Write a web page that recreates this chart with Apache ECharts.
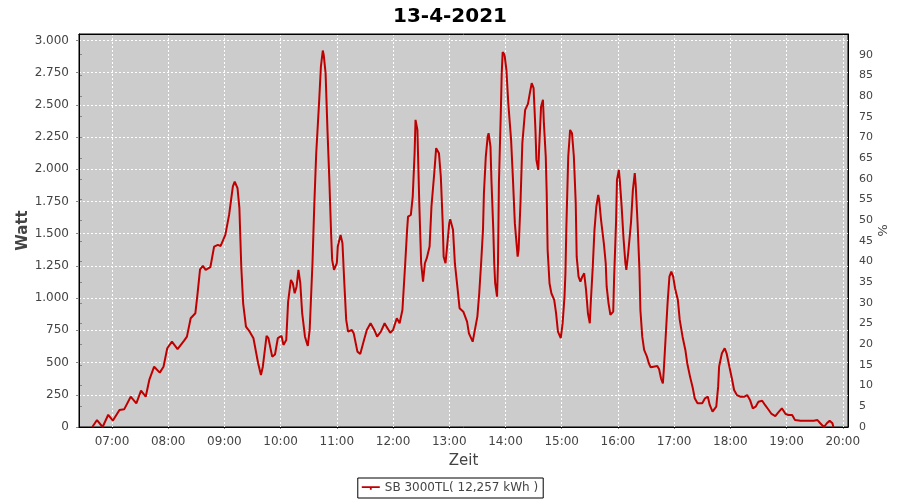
<!DOCTYPE html>
<html>
<head>
<meta charset="utf-8">
<script src="https://cdn.jsdelivr.net/npm/echarts@6/dist/echarts.min.js"></script>
<style>html,body{margin:0;padding:0;background:#fff}#c{width:900px;height:500px}</style>
</head>
<body>
<div id="c"></div>
<script>
const title = '13-4-2021';
const seriesName = 'SB 3000TL( 12,257 kWh )';
const times = ['06:39','06:44','06:50','06:56','07:01','07:08','07:13','07:20','07:26','07:31','07:36','07:40','07:45','07:51','07:55','07:59','08:04','08:10','08:17','08:20','08:24','08:29','08:31','08:34','08:37','08:40','08:45','08:49','08:53','08:56','09:01','09:05','09:09','09:11','09:14','09:16','09:18','09:20','09:23','09:27','09:31','09:36','09:39','09:41','09:45','09:47','09:51','09:54','09:57','10:01','10:03','10:06','10:08','10:11','10:13','10:15','10:17','10:19','10:21','10:23','10:26','10:29','10:31','10:34','10:36','10:38','10:41','10:43','10:45','10:46','10:48','10:50','10:52','10:54','10:55','10:57','11:00','11:01','11:04','11:06','11:08','11:10','11:12','11:16','11:18','11:22','11:25','11:29','11:32','11:36','11:40','11:43','11:47','11:51','11:53','11:57','12:00','12:04','12:07','12:10','12:13','12:15','12:16','12:19','12:21','12:23','12:24','12:26','12:28','12:30','12:32','12:34','12:36','12:39','12:41','12:44','12:46','12:49','12:51','12:53','12:54','12:56','12:58','13:00','13:01','13:04','13:06','13:09','13:11','13:15','13:19','13:21','13:25','13:27','13:30','13:32','13:34','13:36','13:37','13:39','13:41','13:42','13:44','13:45','13:47','13:48','13:49','13:51','13:52','13:53','13:55','13:56','13:57','13:59','14:01','14:03','14:06','14:08','14:10','14:13','14:14','14:16','14:18','14:21','14:24','14:26','14:28','14:30','14:32','14:33','14:35','14:36','14:38','14:40','14:41','14:43','14:44','14:45','14:47','14:49','14:52','14:54','14:56','14:59','15:01','15:03','15:04','15:05','15:07','15:09','15:11','15:13','15:15','15:16','15:18','15:20','15:22','15:24','15:26','15:28','15:30','15:31','15:33','15:35','15:37','15:39','15:40','15:42','15:45','15:47','15:48','15:50','15:52','15:55','15:56','15:58','15:59','16:01','16:02','16:04','16:06','16:08','16:09','16:11','16:14','16:16','16:18','16:19','16:21','16:23','16:24','16:26','16:28','16:31','16:33','16:35','16:38','16:42','16:44','16:46','16:48','16:49','16:51','16:53','16:55','16:57','16:59','17:01','17:04','17:06','17:09','17:12','17:14','17:17','17:20','17:22','17:25','17:30','17:33','17:36','17:38','17:41','17:43','17:45','17:47','17:48','17:51','17:54','17:56','17:59','18:02','18:04','18:07','18:11','18:15','18:18','18:21','18:24','18:27','18:30','18:34','18:37','18:41','18:44','18:48','18:51','18:55','18:59','19:02','19:06','19:09','19:15','19:29','19:33','19:36','19:40','19:43','19:46','19:49','19:50'];
const watt = [0,54,0,95,50,132,137,235,184,282,235,370,468,422,468,611,662,605,670,701,844,883,1012,1224,1250,1219,1240,1400,1413,1405,1491,1646,1866,1905,1853,1698,1245,960,779,740,689,495,404,468,707,689,546,563,689,707,637,675,973,1141,1116,1038,1089,1219,1116,883,701,629,753,1271,1737,2125,2513,2797,2922,2888,2746,2306,1918,1478,1297,1219,1271,1400,1491,1426,1116,831,740,753,727,585,567,675,753,805,753,701,740,805,779,732,753,844,805,908,1271,1530,1633,1646,1788,2125,2384,2306,1737,1271,1128,1271,1310,1400,1711,1970,2164,2125,1943,1582,1322,1271,1426,1582,1613,1530,1271,1064,922,895,818,727,662,740,857,1038,1271,1530,1814,2099,2254,2280,2176,1918,1530,1271,1116,1012,1271,1892,2436,2746,2909,2888,2772,2513,2228,1918,1582,1322,1374,1737,2203,2461,2508,2591,2668,2630,2306,2073,1995,2176,2487,2539,2358,2099,1814,1374,1116,1038,986,883,740,689,805,1012,1193,1555,2099,2306,2280,2099,1737,1322,1167,1128,1167,1193,1064,883,805,960,1219,1530,1711,1801,1762,1607,1426,1271,1089,960,870,895,1167,1582,1918,1995,1918,1710,1465,1271,1219,1350,1590,1840,1970,1880,1582,1219,908,701,598,546,495,463,468,474,448,378,339,443,701,960,1167,1206,1167,1077,986,831,701,598,495,391,300,223,184,184,223,235,171,119,106,158,313,468,572,611,572,468,365,287,248,235,235,248,210,145,158,196,204,171,132,101,85,111,145,101,93,93,54,49,49,54,29,0,29,49,29,0];
const xStart = '06:24:48';
const xEnd = '20:05:36';
const wattMax = 3050, wattStep = 250;
const pctMax = 95, pctStep = 5;

function ts(s) {
  const p = s.split(':').map(Number);
  return Date.UTC(2021, 3, 13, p[0], p[1], p[2] || 0);
}
const data = times.map((t, i) => [ts(t), watt[i]]);
const FONT = 'DejaVu Sans';
function borderAxis(position) {
  return {
    type: 'value', position: position, offset: 0, min: 0, max: 1, z: 5,
    axisLine: {show: true, onZero: false, lineStyle: {color: '#000', width: 1}},
    axisTick: {show: false}, axisLabel: {show: false}, splitLine: {show: false}
  };
}
const chart = echarts.init(document.getElementById('c'), null, {renderer: 'canvas'});
chart.setOption({
  useUTC: true,
  animation: false,
  backgroundColor: '#ffffff',
  textStyle: {fontFamily: FONT},
  title: {
    text: title, left: 'center', top: 2,
    textStyle: {fontFamily: FONT, fontWeight: 'bold', fontSize: 20, color: '#000'}
  },
  legend: {
    left: 'center', bottom: 2,
    data: [{name: seriesName, icon: 'path://M0,3 H20 V5 H0 Z M9,4 H11 V7 H9 Z'}],
    itemWidth: 18, itemHeight: 7, itemGap: 4,
    padding: [4, 5, 4, 4],
    borderColor: '#000', borderWidth: 1, backgroundColor: '#fff', borderRadius: 0,
    textStyle: {fontFamily: FONT, fontSize: 12, color: '#444'}
  },
  grid: {
    left: 79, right: 52, top: 34, bottom: 73,
    show: true, backgroundColor: '#cccccc', borderColor: '#000', borderWidth: 1,
    containLabel: false
  },
  xAxis: [{
    type: 'time',
    min: ts(xStart), max: ts(xEnd),
    minInterval: 3600 * 1000, maxInterval: 3600 * 1000,
    offset: 5,
    name: 'Zeit', nameLocation: 'middle', nameGap: 22, nameMoveOverlap: false,
    nameTextStyle: {fontFamily: FONT, fontSize: 15, color: '#444'},
    axisLine: {show: true, lineStyle: {color: '#888', width: 1}},
    axisTick: {show: true, length: 2, lineStyle: {color: '#888'}},
    axisLabel: {formatter: '{HH}:{mm}', showMinLabel: false, showMaxLabel: false,
      fontFamily: FONT, fontSize: 12, color: '#444', margin: 4},
    splitLine: {show: true, lineStyle: {color: '#fff', type: [2, 2], width: 1}},
    minorTick: {show: false}
  }, borderAxis('bottom'), borderAxis('top')],
  yAxis: [{
    type: 'value', position: 'left', min: 0, max: wattMax, interval: wattStep,
    offset: 4,
    name: 'Watt', nameLocation: 'middle', nameGap: 44, nameRotate: 90, nameMoveOverlap: false,
    nameTextStyle: {fontFamily: FONT, fontSize: 15, fontWeight: 'bold', color: '#444'},
    axisLine: {show: true, lineStyle: {color: '#888', width: 1}},
    axisTick: {show: true, length: 3, lineStyle: {color: '#888'}},
    axisLabel: {showMaxLabel: false, fontFamily: FONT, fontSize: 12, color: '#444', margin: 6,
      formatter: v => String(Math.round(v)).replace(/\B(?=(\d{3})+(?!\d))/g, '.')},
    splitLine: {show: true, lineStyle: {color: '#fff', type: [2, 2], width: 1}}
  }, {
    type: 'value', position: 'right', min: 0, max: pctMax, interval: pctStep,
    offset: 5,
    name: '%', nameLocation: 'middle', nameGap: 22, nameRotate: -90, nameMoveOverlap: false,
    nameTextStyle: {fontFamily: FONT, fontSize: 13, color: '#444'},
    axisLine: {show: true, lineStyle: {color: '#888', width: 1}},
    axisTick: {show: true, length: 3, lineStyle: {color: '#888'}},
    axisLabel: {showMaxLabel: false, fontFamily: FONT, fontSize: 11, color: '#444', margin: 6},
    splitLine: {show: false}
  }, borderAxis('left'), borderAxis('right')],
  series: [{
    name: seriesName, type: 'line', yAxisIndex: 0, xAxisIndex: 0, z: 10,
    data: data, showSymbol: false, symbol: 'none',
    color: '#c00000',
    lineStyle: {color: '#c00000', width: 2},
    clip: true
  }]
});
</script>
</body>
</html>
